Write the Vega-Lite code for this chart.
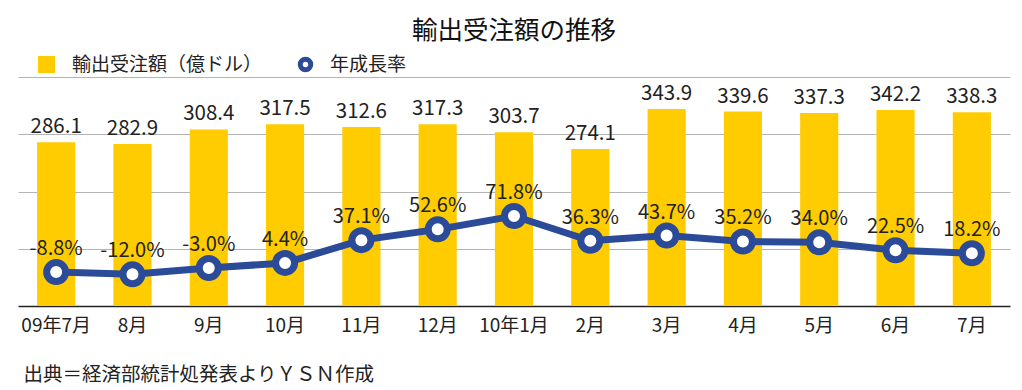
{
  "$schema": "https://vega.github.io/schema/vega-lite/v6.json",
  "width": 992,
  "height": 229,
  "autosize": {"type": "none"},
  "padding": {"left": 18, "top": 77, "right": 12, "bottom": 84},
  "background": "white",
  "config": {
    "font": "Noto Sans CJK JP",
    "view": {"stroke": null},
    "text": {"font": "Noto Sans CJK JP"}
  },
  "title": {
    "text": "輸出受注額の推移",
    "fontSize": 25.5,
    "fontWeight": "normal",
    "color": "#111",
    "anchor": "middle",
    "frame": "group",
    "baseline": "alphabetic",
    "offset": 15,
    "dy": 24
  },
  "data": {
    "values": [
      {"month": "09年7月", "amount": 286.1, "rate": -8.8, "s1": "輸出受注額（億ドル）", "s2": "年成長率"},
      {"month": "8月", "amount": 282.9, "rate": -12.0, "s1": "輸出受注額（億ドル）", "s2": "年成長率"},
      {"month": "9月", "amount": 308.4, "rate": -3.0, "s1": "輸出受注額（億ドル）", "s2": "年成長率"},
      {"month": "10月", "amount": 317.5, "rate": 4.4, "s1": "輸出受注額（億ドル）", "s2": "年成長率"},
      {"month": "11月", "amount": 312.6, "rate": 37.1, "s1": "輸出受注額（億ドル）", "s2": "年成長率"},
      {"month": "12月", "amount": 317.3, "rate": 52.6, "s1": "輸出受注額（億ドル）", "s2": "年成長率"},
      {"month": "10年1月", "amount": 303.7, "rate": 71.8, "s1": "輸出受注額（億ドル）", "s2": "年成長率"},
      {"month": "2月", "amount": 274.1, "rate": 36.3, "s1": "輸出受注額（億ドル）", "s2": "年成長率"},
      {"month": "3月", "amount": 343.9, "rate": 43.7, "s1": "輸出受注額（億ドル）", "s2": "年成長率"},
      {"month": "4月", "amount": 339.6, "rate": 35.2, "s1": "輸出受注額（億ドル）", "s2": "年成長率"},
      {"month": "5月", "amount": 337.3, "rate": 34.0, "s1": "輸出受注額（億ドル）", "s2": "年成長率"},
      {"month": "6月", "amount": 342.2, "rate": 22.5, "s1": "輸出受注額（億ドル）", "s2": "年成長率"},
      {"month": "7月", "amount": 338.3, "rate": 18.2, "s1": "輸出受注額（億ドル）", "s2": "年成長率"}
    ]
  },
  "encoding": {
    "x": {
      "field": "month",
      "type": "nominal",
      "sort": null,
      "scale": {"paddingInner": 0.5, "paddingOuter": 0.25},
      "axis": {
        "title": "出典＝経済部統計処発表よりＹＳＮ作成",
        "titleX": 5,
        "titleY": 74,
        "titleAlign": "left",
        "titleAnchor": "start",
        "titleBaseline": "alphabetic",
        "titleFontSize": 19.5,
        "titleFontWeight": "normal",
        "titleColor": "#222",
        "labelAngle": 0,
        "labelFontSize": 19,
        "labelColor": "#222",
        "labelPadding": 10,
        "labelBaseline": "top",
        "ticks": false,
        "domainColor": "#222",
        "domainWidth": 1.5,
        "grid": false
      }
    }
  },
  "layer": [
    {
      "encoding": {
        "y": {
          "field": "amount",
          "type": "quantitative",
          "scale": {"domain": [0, 400], "nice": false},
          "axis": {
            "title": null,
            "labels": false,
            "ticks": false,
            "domain": false,
            "grid": true,
            "gridColor": "#b4b4b4",
            "gridWidth": 1,
            "values": [100, 200, 300, 400]
          }
        }
      },
      "layer": [
        {
          "mark": {"type": "bar"},
          "encoding": {
            "fill": {
              "field": "s1",
              "type": "nominal",
              "scale": {"range": ["#FECC00"]},
              "legend": {
                "title": null,
                "orient": "none",
                "legendX": 19,
                "legendY": -22,
                "padding": 0,
                "symbolType": "square",
                "symbolSize": 289,
                "symbolStrokeWidth": 0,
                "labelFontSize": 19,
                "labelLimit": 400,
                "labelColor": "#222",
                "labelOffset": 16
              }
            }
          }
        },
        {
          "mark": {"type": "text", "baseline": "alphabetic", "dy": -9, "fontSize": 20.5, "color": "#222"},
          "encoding": {
            "text": {"field": "amount", "type": "quantitative", "format": ".1f"}
          }
        }
      ]
    },
    {
      "encoding": {
        "y": {
          "field": "rate",
          "type": "quantitative",
          "scale": {"domain": [-57.5, 271.5], "nice": false, "zero": false},
          "axis": null
        }
      },
      "layer": [
        {
          "mark": {"type": "line", "color": "#2B4A97", "strokeWidth": 7}
        },
        {
          "mark": {"type": "point", "filled": true, "fill": "white", "strokeWidth": 7, "size": 361, "shape": "circle", "opacity": 1},
          "encoding": {
            "stroke": {
              "field": "s2",
              "type": "nominal",
              "scale": {"range": ["#2B4A97"]},
              "legend": {
                "title": null,
                "orient": "none",
                "legendX": 278,
                "legendY": -22,
                "padding": 0,
                "symbolType": "circle",
                "symbolSize": 110,
                "symbolStrokeWidth": 5,
                "symbolFillColor": "white",
                "labelFontSize": 19,
                "labelLimit": 400,
                "labelColor": "#222",
                "labelOffset": 15
              }
            }
          }
        },
        {
          "mark": {
            "type": "text",
            "baseline": "alphabetic",
            "dy": -17,
            "fontSize": 20,
            "color": "#222",
            "text": {"expr": "replace(format(datum.rate, '.1f'), '\u2212', '-') + '%'"}
          }
        }
      ]
    }
  ],
  "resolve": {"scale": {"y": "independent"}}
}
